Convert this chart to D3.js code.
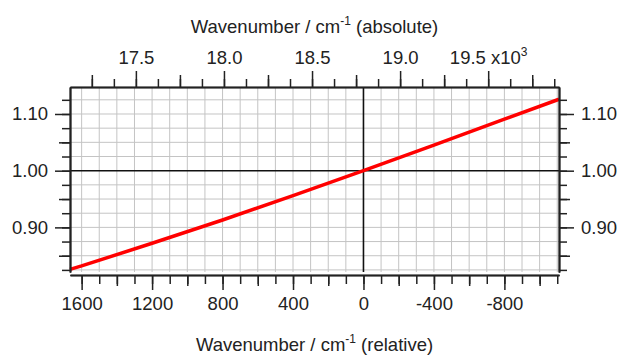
<!DOCTYPE html>
<meta charset="utf-8">
<script src="https://cdnjs.cloudflare.com/ajax/libs/d3/7.8.5/d3.min.js"></script>
<style>
  body { margin: 0; background: #fff; }
  text { font-family: "Liberation Sans", Arial, sans-serif; fill: #222; }
</style>
<div id="my_dataviz"></div>
<script>

// values
var relWavenumber = [1666, 1600, 1200, 800, 400, 0, -400, -800, -1110];
var ratio = [0.826, 0.832, 0.872, 0.913, 0.956, 1.000, 1.045, 1.091, 1.126];
var nu0 = 18792;   // absolute wavenumber at relative 0
var bottomTicks = [1600, 1200, 800, 400, 0, -400, -800];
var topTicks = [17500, 18000, 18500, 19000, 19500];
var leftTicks = [0.90, 1.00, 1.10];

var width = 623, height = 356;
var plotLeft = 70, plotRight = 559, plotTop = 87, plotBottom = 272;
var fontSize = "18.5px";

var svg = d3.select("#my_dataviz").append("svg")
    .attr("width", width)
    .attr("height", height);

// scales
var x = d3.scaleLinear().domain([1666, -1110]).range([plotLeft, plotRight]);
var xTop = d3.scaleLinear().domain([nu0 - 1666, nu0 + 1110]).range([plotLeft, plotRight]);
var y = d3.scaleLinear().domain([0.8213, 1.1476]).range([plotBottom, plotTop]);

// grid
var grid = svg.append("g");
grid.selectAll(".vg")
  .data(d3.range(1600, -1111, -100).filter(function(d) { return d !== 0; }))
  .enter().append("line")
    .attr("x1", function(d) { return x(d); })
    .attr("x2", function(d) { return x(d); })
    .attr("y1", plotTop).attr("y2", plotBottom)
    .attr("stroke", "#c4c4c4");
grid.selectAll(".hg")
  .data(d3.range(0.825, 1.15, 0.025).filter(function(d) { return Math.abs(d - 1) > 1e-6; }))
  .enter().append("line")
    .attr("x1", plotLeft).attr("x2", plotRight)
    .attr("y1", function(d) { return y(d); })
    .attr("y2", function(d) { return y(d); })
    .attr("stroke", "#c4c4c4");

// zero lines
svg.append("line")
    .attr("x1", x(0)).attr("x2", x(0))
    .attr("y1", plotTop).attr("y2", plotBottom)
    .attr("stroke", "#111").attr("stroke-width", 1.6);
svg.append("line")
    .attr("x1", plotLeft).attr("x2", plotRight)
    .attr("y1", y(1)).attr("y2", y(1))
    .attr("stroke", "#111").attr("stroke-width", 1.6);

// the curve
var valueline = d3.line()
    .x(function(d) { return x(d[0]); })
    .y(function(d) { return y(d[1]); });

svg.append("path")
    .datum(d3.zip(relWavenumber, ratio))
    .attr("d", valueline)
    .attr("fill", "none")
    .attr("stroke", "#ff0000")
    .attr("stroke-width", 3.5);

// helper: one axis with three tick levels
function drawAxis(axisFn, scale, tr, minor, medium, major, fmt, sizes) {
  var g = svg.append("g").attr("transform", tr);
  g.append("g").call(axisFn(scale).tickValues(minor).tickSize(sizes[0]).tickSizeOuter(0).tickFormat(""));
  g.append("g").call(axisFn(scale).tickValues(medium).tickSize(sizes[1]).tickSizeOuter(0).tickFormat(""));
  var m = g.append("g").call(axisFn(scale).tickValues(major).tickSize(sizes[2]).tickSizeOuter(0).tickFormat(fmt).tickPadding(7));
  g.selectAll("path.domain").attr("stroke", "#222").attr("stroke-width", 1.6);
  g.selectAll(".tick line").attr("stroke", "#222").attr("stroke-width", 1.5);
  m.selectAll("text").style("font-size", fontSize).attr("fill", "#222");
  return m;
}

// bottom axis
var minorB = d3.range(1600, -1111, -100), medB = d3.range(1400, -1111, -400);
drawAxis(d3.axisBottom, x, "translate(0,275)", minorB, medB, bottomTicks,
  function(d) { return d; }, [9, 11, 15]);

// top axis
var minorT = d3.range(17250, 19900, 125), medT = d3.range(17250, 19900, 500);
var topAx = drawAxis(d3.axisTop, xTop, "translate(0,87)", minorT, medT, topTicks,
  function(d) { return d3.format(".1f")(d / 1000); }, [8, 12, 16]);
topAx.selectAll(".tick text")
  .filter(function(d) { return d === 19500; })
  .each(function() {
    var t = d3.select(this);
    t.text("19.5 x10");
    t.append("tspan").attr("dy", "-8").style("font-size", "12px").text("3");
  });

// left and right axes
var minorY = d3.range(0.825, 1.15, 0.025), medY = [0.85, 0.95, 1.05];
var fmtY = d3.format(".2f");
drawAxis(d3.axisLeft, y, "translate(70,0)", minorY, medY, leftTicks, fmtY, [8, 11, 15]);
drawAxis(d3.axisRight, y, "translate(559,0)", minorY, medY, leftTicks, fmtY, [8, 11, 15]);

// axis titles
function title(yPos, label) {
  var t = svg.append("text")
      .attr("x", (plotLeft + plotRight) / 2)
      .attr("y", yPos)
      .attr("text-anchor", "middle")
      .style("font-size", fontSize);
  t.append("tspan").text("Wavenumber / cm");
  t.append("tspan").attr("dy", "-8").style("font-size", "12px").text("-1");
  t.append("tspan").attr("dy", "8").text(" " + label);
}
title(33, "(absolute)");
title(351, "(relative)");

</script>
